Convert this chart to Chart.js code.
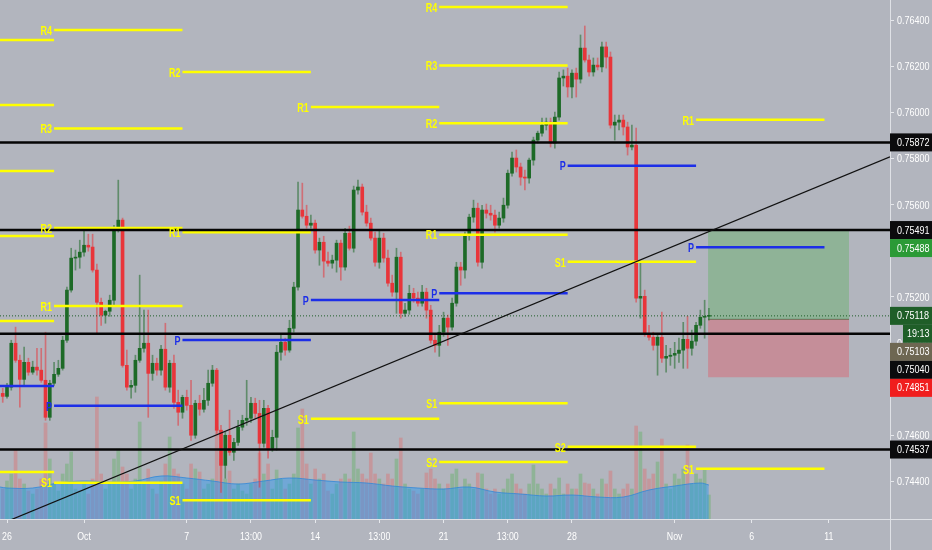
<!DOCTYPE html>
<html>
<head>
<meta charset="utf-8">
<title>AUDUSD 4H</title>
<script src="https://cdn.jsdelivr.net/npm/chart.js@4.4.1/dist/chart.umd.min.js"></script>
<style>
  html, body { margin: 0; padding: 0; background: #b2b5be; }
  #wrap { width: 932px; height: 550px; background: #b2b5be; }
</style>
</head>
<body>
<div id="wrap"><canvas id="chart" width="932" height="550"></canvas></div>
<script>
// 4h candles, first one opens Wed 20:00 (trading-day index -1/6)
const opens = [
  0.74781, 0.74768, 0.74808, 0.74999, 0.74925, 0.74842, 0.74916, 0.74873, 0.74895, 0.74882,
  0.74838, 0.74677, 0.74825, 0.74864, 0.74890, 0.75012, 0.75230, 0.75369, 0.75373, 0.75395,
  0.75425, 0.75417, 0.75317, 0.75177, 0.75121, 0.75138, 0.75186, 0.75491, 0.75534, 0.74903,
  0.74808, 0.74816, 0.74925, 0.74977, 0.74999, 0.74868, 0.74912, 0.74882, 0.74973, 0.74808,
  0.74912, 0.74742, 0.74699, 0.74764, 0.74729, 0.74599, 0.74738, 0.74712, 0.74751, 0.74825,
  0.74882, 0.74621, 0.74468, 0.74599, 0.74525, 0.74568, 0.74634, 0.74664, 0.74673, 0.74738,
  0.74694, 0.74564, 0.74716, 0.74542, 0.74590, 0.74960, 0.75003, 0.74969, 0.75064, 0.75243,
  0.75578, 0.75551, 0.75512, 0.75521, 0.75404, 0.75438, 0.75356, 0.75347, 0.75360, 0.75434,
  0.75330, 0.75477, 0.75412, 0.75665, 0.75678, 0.75569, 0.75521, 0.75456, 0.75351, 0.75456,
  0.75369, 0.75260, 0.75221, 0.75373, 0.75129, 0.75143, 0.75216, 0.75195, 0.75173, 0.75221,
  0.75143, 0.75012, 0.74990, 0.75047, 0.75108, 0.75069, 0.75173, 0.75330, 0.75317, 0.75469,
  0.75547, 0.75586, 0.75351, 0.75578, 0.75564, 0.75556, 0.75512, 0.75543, 0.75599, 0.75738,
  0.75804, 0.75765, 0.75721, 0.75717, 0.75795, 0.75882, 0.75912, 0.75947, 0.75960, 0.75869,
  0.75982, 0.76152, 0.76160, 0.76113, 0.76173, 0.76147, 0.76282, 0.76230, 0.76178, 0.76208,
  0.76200, 0.76287, 0.76243, 0.75947, 0.75960, 0.75969, 0.75939, 0.75852, 0.75860, 0.75195,
  0.75203, 0.75042, 0.75025, 0.74990, 0.75025, 0.74934, 0.74942, 0.74947, 0.74955, 0.74969,
  0.75016, 0.74977, 0.75008, 0.75077, 0.75112, 0.75116
];
const highs = [
  0.74803, 0.74825, 0.75012, 0.75069, 0.74947, 0.74982, 0.74934, 0.74921, 0.74977, 0.74977,
  0.75047, 0.74838, 0.74916, 0.74925, 0.75029, 0.75243, 0.75412, 0.75404, 0.75447, 0.75491,
  0.75473, 0.75473, 0.75343, 0.75195, 0.75143, 0.75208, 0.75512, 0.75708, 0.75543, 0.74969,
  0.74838, 0.74947, 0.75295, 0.75143, 0.75143, 0.74947, 0.74934, 0.74990, 0.75086, 0.74925,
  0.74947, 0.74795, 0.74773, 0.74795, 0.74838, 0.74751, 0.74773, 0.74803, 0.74882, 0.74903,
  0.74890, 0.74642, 0.74612, 0.74708, 0.74586, 0.74664, 0.74686, 0.74838, 0.74764, 0.74760,
  0.74751, 0.74751, 0.74729, 0.74621, 0.74990, 0.75034, 0.75021, 0.75099, 0.75264, 0.75699,
  0.75695, 0.75599, 0.75556, 0.75534, 0.75456, 0.75464, 0.75395, 0.75382, 0.75447, 0.75447,
  0.75499, 0.75508, 0.75682, 0.75708, 0.75691, 0.75599, 0.75543, 0.75482, 0.75491, 0.75477,
  0.75404, 0.75295, 0.75412, 0.75395, 0.75173, 0.75251, 0.75238, 0.75221, 0.75251, 0.75238,
  0.75164, 0.75034, 0.75077, 0.75134, 0.75121, 0.75195, 0.75351, 0.75351, 0.75482, 0.75560,
  0.75621, 0.75608, 0.75599, 0.75604, 0.75599, 0.75578, 0.75569, 0.75630, 0.75752, 0.75830,
  0.75839, 0.75782, 0.75752, 0.75804, 0.75895, 0.75921, 0.75978, 0.75978, 0.75978, 0.76004,
  0.76178, 0.76187, 0.76195, 0.76187, 0.76195, 0.76339, 0.76378, 0.76252, 0.76239, 0.76239,
  0.76308, 0.76308, 0.76265, 0.75991, 0.75991, 0.75991, 0.75960, 0.75947, 0.75934, 0.75347,
  0.75230, 0.75077, 0.75047, 0.75034, 0.75134, 0.74990, 0.74977, 0.75003, 0.75021, 0.75090,
  0.75116, 0.75056, 0.75090, 0.75143, 0.75186, 0.75151
];
const lows = [
  0.74742, 0.74760, 0.74795, 0.74916, 0.74721, 0.74816, 0.74860, 0.74864, 0.74860, 0.74829,
  0.74664, 0.74664, 0.74816, 0.74855, 0.74882, 0.75003, 0.75221, 0.75317, 0.75325, 0.75377,
  0.75399, 0.75308, 0.75038, 0.75077, 0.75086, 0.75116, 0.75164, 0.75482, 0.74895, 0.74795,
  0.74760, 0.74786, 0.74916, 0.74960, 0.74677, 0.74838, 0.74860, 0.74860, 0.74795, 0.74786,
  0.74716, 0.74642, 0.74673, 0.74708, 0.74577, 0.74586, 0.74686, 0.74699, 0.74729, 0.74812,
  0.74607, 0.74351, 0.74412, 0.74512, 0.74490, 0.74555, 0.74621, 0.74642, 0.74655, 0.74673,
  0.74373, 0.74547, 0.74499, 0.74529, 0.74534, 0.74925, 0.74947, 0.74960, 0.75047, 0.75230,
  0.75543, 0.75499, 0.75499, 0.75390, 0.75338, 0.75286, 0.75334, 0.75325, 0.75308, 0.75273,
  0.75317, 0.75404, 0.75395, 0.75647, 0.75556, 0.75508, 0.75447, 0.75334, 0.75325, 0.75351,
  0.75247, 0.75203, 0.75129, 0.75108, 0.75116, 0.75125, 0.75177, 0.75160, 0.75160, 0.75108,
  0.74999, 0.74960, 0.74942, 0.75029, 0.74990, 0.75056, 0.75160, 0.75251, 0.75282, 0.75447,
  0.75525, 0.75334, 0.75325, 0.75543, 0.75534, 0.75482, 0.75499, 0.75525, 0.75586, 0.75725,
  0.75743, 0.75686, 0.75665, 0.75695, 0.75773, 0.75869, 0.75899, 0.75926, 0.75852, 0.75847,
  0.75969, 0.76117, 0.76069, 0.76065, 0.76069, 0.76130, 0.76221, 0.76160, 0.76160, 0.76187,
  0.76178, 0.76195, 0.75934, 0.75882, 0.75926, 0.75904, 0.75817, 0.75839, 0.75177, 0.75108,
  0.75029, 0.75012, 0.74969, 0.74860, 0.74916, 0.74873, 0.74903, 0.74890, 0.74916, 0.74890,
  0.74890, 0.74947, 0.74990, 0.75064, 0.75021, 0.75099
];
const closes = [
  0.74768, 0.74808, 0.74999, 0.74925, 0.74842, 0.74916, 0.74873, 0.74895, 0.74882, 0.74838,
  0.74677, 0.74825, 0.74864, 0.74890, 0.75012, 0.75230, 0.75369, 0.75373, 0.75395, 0.75425,
  0.75417, 0.75317, 0.75177, 0.75121, 0.75138, 0.75186, 0.75491, 0.75534, 0.74903, 0.74808,
  0.74816, 0.74925, 0.74977, 0.74999, 0.74868, 0.74912, 0.74882, 0.74973, 0.74808, 0.74912,
  0.74742, 0.74699, 0.74764, 0.74729, 0.74599, 0.74738, 0.74712, 0.74751, 0.74825, 0.74882,
  0.74621, 0.74468, 0.74599, 0.74525, 0.74568, 0.74634, 0.74664, 0.74673, 0.74738, 0.74694,
  0.74564, 0.74716, 0.74542, 0.74590, 0.74960, 0.75003, 0.74969, 0.75064, 0.75243, 0.75578,
  0.75551, 0.75512, 0.75521, 0.75404, 0.75438, 0.75356, 0.75347, 0.75360, 0.75434, 0.75330,
  0.75477, 0.75412, 0.75665, 0.75678, 0.75569, 0.75521, 0.75456, 0.75351, 0.75456, 0.75369,
  0.75260, 0.75221, 0.75373, 0.75129, 0.75143, 0.75216, 0.75195, 0.75173, 0.75221, 0.75143,
  0.75012, 0.74990, 0.75047, 0.75108, 0.75069, 0.75173, 0.75330, 0.75317, 0.75469, 0.75547,
  0.75586, 0.75351, 0.75578, 0.75564, 0.75556, 0.75512, 0.75543, 0.75599, 0.75738, 0.75804,
  0.75765, 0.75721, 0.75717, 0.75795, 0.75882, 0.75912, 0.75947, 0.75960, 0.75869, 0.75982,
  0.76152, 0.76160, 0.76113, 0.76173, 0.76147, 0.76282, 0.76230, 0.76178, 0.76208, 0.76200,
  0.76287, 0.76243, 0.75947, 0.75960, 0.75969, 0.75939, 0.75852, 0.75860, 0.75195, 0.75203,
  0.75042, 0.75025, 0.74990, 0.75025, 0.74934, 0.74942, 0.74947, 0.74955, 0.74969, 0.75016,
  0.74977, 0.75008, 0.75077, 0.75112, 0.75116, 0.75118
];
const volumes = [
  30, 38, 45, 69, 40, 35, 28, 25, 30, 40, 96,
  60, 35, 28, 45, 55, 67, 30, 28, 35, 25,
  40, 122, 45, 30, 35, 60, 70, 52, 45, 30,
  40, 97, 35, 50, 30, 25, 38, 55, 82, 50,
  45, 35, 30, 55, 50, 47, 30, 35, 40, 92,
  60, 40, 48, 30, 35, 28, 25, 35, 40, 66,
  45, 55, 30, 49, 40, 30, 35, 45, 91, 110,
  55, 35, 50, 40, 45, 28, 25, 35, 40, 45,
  40, 87, 50, 45, 40, 66, 45, 40, 35, 45,
  40, 60, 81, 35, 30, 28, 25, 30, 46, 50,
  40, 35, 30, 35, 45, 50, 30, 40, 35, 30,
  46, 45, 30, 25, 30, 25, 30, 40, 45, 35,
  30, 25, 35, 54, 35, 30, 25, 35, 30, 41,
  25, 35, 30, 30, 45, 36, 35, 30, 25, 40,
  35, 48, 30, 25, 30, 35, 30, 93, 87, 50,
  40, 45, 57, 80, 35, 30, 45, 40, 50, 74,
  35, 45, 40, 50, 24
];
// volume moving average, one reading per trading day
const volAvgDays = [-0.27, 0, 1, 2, 3, 4, 5, 6, 7, 8, 9, 10, 11, 12, 13, 14, 15, 16, 17, 18, 19, 20, 21, 22, 23, 24, 25, 26, 27, 27.33];
const volAvg = [32, 31, 31, 36, 38, 37, 38, 43, 41, 38, 35, 38, 41, 39, 37, 36, 33, 31, 30, 32, 27, 25, 23, 24, 22, 22, 29, 33, 36, 34];

const dayTicks = [0, 3, 7, 9.5, 12, 14.5, 17, 19.5, 22, 26, 29, 32];
const dayLabels = ["26", "Oct", "7", "13:00", "14", "13:00", "21", "13:00", "28", "Nov", "6", "11"];
const priceTicks = [0.744, 0.746, 0.748, 0.750, 0.752, 0.754, 0.756, 0.758, 0.760, 0.762, 0.764];

// weekly pivot points (one value per week)
const weekBounds = [-3.167, 1.833, 6.833, 11.833, 16.833, 21.833, 26.833, 31.833];
const r5 = [0.76317, null, null, null, null, null, null];
const r4 = [0.76035, 0.76361, null, null, 0.76461, null, null];
const r3 = [0.75748, 0.75932, null, null, 0.76206, null, null];
const r2 = [0.75465, 0.75500, 0.76178, null, 0.75955, null, null];
const r1 = [0.75096, 0.75161, 0.75481, 0.76026, 0.75471, null, 0.75970];
const pp = [0.74813, 0.74727, 0.75013, 0.75187, 0.75216, 0.75771, 0.75416];
const s1 = [0.74439, 0.74393, 0.74317, 0.74671, 0.74738, 0.75353, 0.74453];
const s2 = [null, null, null, null, 0.74483, 0.74549, null];

const levels = [0.75872, 0.75491, 0.75040, 0.74537];
const trendDays = [0.117, 34.385];
const trendPrices = [0.74230, 0.75809];
const boxDays = [27.3, 32.79];
const boxPrices = [0.75488, 0.75103, 0.74851]; // target, entry, stop
const lastPrice = 0.75118;
const countdown = "19:13";
const tagPrices = [0.75872, 0.75491, 0.75488, 0.75118, 0.75103, 0.75040, 0.74851, 0.74537];
const tagColors = ["#0b0b0d", "#0b0b0d", "#2b9a36", "#1f5e28", "#6e6752", "#0b0b0d", "#f01e1e", "#0b0b0d"];

// ---- chart ----
const FONT = "'Liberation Sans', Arial, sans-serif";
const UP = "#1d6a27", DOWN = "#e8353a";
const YELLOW = "#ffff00", BLUE = "#1c2ee8";
const xMin = -0.2726, xMax = 34.385;
const yMin = 0.74235, yMax = 0.76491;

const days = opens.map((_, i) => (i - 1) / 6);
const isUp = i => closes[i] >= opens[i];

const pivotSets = [["R5", r5], ["R4", r4], ["R3", r3], ["R2", r2], ["R1", r1], ["P", pp], ["S1", s1], ["S2", s2]];

// narrow text: the original uses a condensed face that is not installed
function narrowText(ctx, text, x, y, sx) {
  ctx.save();
  ctx.translate(x, y);
  ctx.scale(sx, 1);
  ctx.fillText(text, 0, 0);
  ctx.restore();
}

function segments(vals) {
  const pts = [];
  vals.forEach((v, i) => {
    if (v == null) return;
    pts.push({ x: weekBounds[i], y: v }, { x: weekBounds[i + 1], y: v }, { x: weekBounds[i + 1], y: null });
  });
  return pts;
}

function hline(price, color, width, order, dash) {
  return {
    type: "line",
    data: [{ x: xMin, y: price }, { x: xMax, y: price }],
    borderColor: color,
    borderWidth: width,
    borderDash: dash || [],
    pointRadius: 0,
    fill: false,
    order: order
  };
}

function boxLine(price, fill, order) {
  return {
    type: "line",
    data: [{ x: boxDays[0], y: price }, { x: boxDays[1], y: price }],
    borderColor: "rgba(0,0,0,0)",
    borderWidth: 0,
    pointRadius: 0,
    fill: fill,
    order: order
  };
}

const datasets = [
  {
    type: "bar",
    yAxisID: "vol",
    data: volumes.map((v, i) => ({ x: days[i], y: v })),
    backgroundColor: c => isUp(c.dataIndex) ? "rgba(76,175,80,0.35)" : "rgba(239,83,80,0.3)",
    barThickness: 3,
    grouped: false,
    order: 30
  },
  {
    type: "line",
    yAxisID: "vol",
    data: volAvg.map((v, i) => ({ x: volAvgDays[i], y: v })),
    borderColor: "rgba(50,135,215,0.8)",
    borderWidth: 1,
    backgroundColor: "rgba(33,150,243,0.45)",
    fill: "origin",
    tension: 0.4,
    pointRadius: 0,
    order: 29
  },
  boxLine(boxPrices[0], false, 28),
  Object.assign(boxLine(boxPrices[1], { target: "-1" }, 27), {
    backgroundColor: "rgba(76,175,80,0.35)",
    borderColor: "rgba(40,100,50,0.7)",
    borderWidth: 1
  }),
  Object.assign(boxLine(boxPrices[2], { target: "-1" }, 26), {
    backgroundColor: "rgba(242,54,69,0.3)"
  }),
  {
    type: "bar",
    data: lows.map((l, i) => ({ x: days[i], y: [l, highs[i]] })),
    backgroundColor: c => isUp(c.dataIndex) ? "rgba(29,106,39,0.55)" : "rgba(232,53,58,0.55)",
    barThickness: 1,
    grouped: false,
    order: 21
  },
  {
    type: "bar",
    data: opens.map((o, i) => ({ x: days[i], y: [o, closes[i]] })),
    backgroundColor: c => isUp(c.dataIndex) ? UP : DOWN,
    barThickness: 3,
    minBarLength: 1,
    grouped: false,
    order: 20
  },
  hline(lastPrice, "#1f5e28", 1, 15, [1, 2])
];

pivotSets.forEach(([name, vals], i) => {
  datasets.push({
    type: "line",
    data: segments(vals),
    borderColor: name === "P" ? BLUE : YELLOW,
    borderWidth: 2.5,
    pointRadius: 0,
    fill: false,
    spanGaps: false,
    order: 10 + i
  });
});

levels.forEach(p => datasets.push(hline(p, "#050505", 2.5, 5)));

datasets.push({
  type: "line",
  data: trendDays.map((d, i) => ({ x: d, y: trendPrices[i] })),
  borderColor: "#111",
  borderWidth: 1.2,
  pointRadius: 0,
  fill: false,
  order: 4
});

const pivotLabels = {
  id: "pivotLabels",
  afterDatasetsDraw(chart) {
    const { ctx, chartArea, scales: { x, y } } = chart;
    ctx.save();
    ctx.beginPath();
    ctx.rect(chartArea.left, chartArea.top, chartArea.width, chartArea.height);
    ctx.clip();
    ctx.font = "bold 12px " + FONT;
    ctx.textAlign = "right";
    ctx.textBaseline = "middle";
    pivotSets.forEach(([name, vals]) => {
      ctx.fillStyle = name === "P" ? BLUE : YELLOW;
      vals.forEach((v, i) => {
        if (v == null) return;
        narrowText(ctx, name, x.getPixelForValue(weekBounds[i]) - 2, y.getPixelForValue(v) + 1.5, 0.75);
      });
    });
    ctx.restore();
  }
};

const axisText = {
  id: "axisText",
  afterDraw(chart) {
    const { ctx, chartArea, scales: { x, y } } = chart;
    const right = chartArea.right, bottom = chartArea.bottom;
    ctx.save();
    // axis lines run to the canvas edges
    ctx.strokeStyle = "#dfe1e6";
    ctx.lineWidth = 1;
    ctx.beginPath();
    ctx.moveTo(right + 0.5, 0);
    ctx.lineTo(right + 0.5, chart.height);
    ctx.moveTo(0, bottom + 0.5);
    ctx.lineTo(chart.width, bottom + 0.5);
    ctx.stroke();

    ctx.fillStyle = "#ffffff";
    ctx.font = "11px " + FONT;
    ctx.textBaseline = "middle";
    ctx.textAlign = "left";
    priceTicks.forEach(v => narrowText(ctx, v.toFixed(5), right + 7, y.getPixelForValue(v) + 0.5, 0.82));
    ctx.textAlign = "center";
    dayTicks.forEach((d, i) => narrowText(ctx, dayLabels[i], x.getPixelForValue(d), bottom + 18, 0.8));

    // price tags, pushed down when they would overlap
    const w = chart.width - right, h = 18;
    ctx.textAlign = "left";
    let floor = -Infinity;
    tagPrices.forEach((p, i) => {
      const top = Math.max(y.getPixelForValue(p) - h / 2, floor);
      ctx.fillStyle = tagColors[i];
      ctx.fillRect(right, top, w, h);
      ctx.fillStyle = "#ffffff";
      narrowText(ctx, p.toFixed(5), right + 7, top + h / 2 + 0.5, 0.82);
      floor = top + h;
      if (p === lastPrice) {
        ctx.fillStyle = tagColors[i];
        ctx.fillRect(right + 13, floor, w - 13, h);
        ctx.fillStyle = "#ffffff";
        narrowText(ctx, countdown, right + 17, floor + h / 2 + 0.5, 0.82);
        floor += h;
      }
    });
    ctx.restore();
  }
};

new Chart(document.getElementById("chart"), {
  type: "bar",
  data: { datasets: datasets },
  options: {
    responsive: false,
    animation: false,
    events: [],
    devicePixelRatio: 1,
    layout: { padding: 0 },
    plugins: { legend: { display: false }, tooltip: { enabled: false } },
    scales: {
      x: {
        type: "linear",
        min: xMin,
        max: xMax,
        offset: false,
        grid: { display: true, offset: false, drawOnChartArea: false, drawTicks: true, tickLength: 4, color: "#e6e8ec" },
        border: { display: true, color: "#dfe1e6" },
        ticks: { display: false },
        afterBuildTicks: axis => { axis.ticks = dayTicks.map(v => ({ value: v })); },
        afterFit: axis => { axis.height = 31; }
      },
      y: {
        type: "linear",
        position: "right",
        min: yMin,
        max: yMax,
        grid: { display: true, drawOnChartArea: false, drawTicks: true, tickLength: 4, color: "#e6e8ec" },
        border: { display: true, color: "#dfe1e6" },
        ticks: { display: false },
        afterBuildTicks: axis => { axis.ticks = priceTicks.map(v => ({ value: v })); },
        afterFit: axis => { axis.width = 42; }
      },
      vol: {
        type: "linear",
        display: false,
        min: 0,
        max: 519
      }
    }
  },
  plugins: [pivotLabels, axisText]
});
</script>
</body>
</html>
